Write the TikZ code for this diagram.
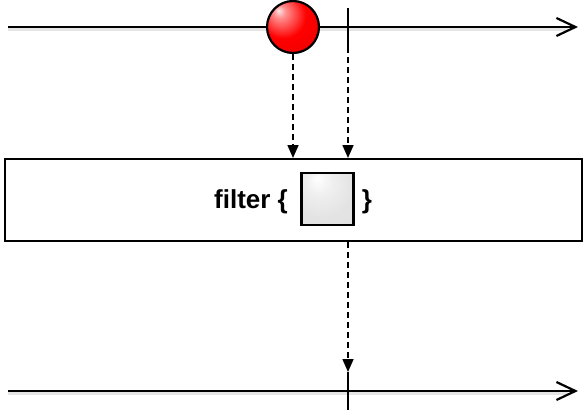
\documentclass[tikz,border=0pt]{standalone}
\usepackage{fontspec}
\setmainfont{Liberation Sans}
\usetikzlibrary{arrows.meta,calc}
\pgfdeclareradialshading{redball}{\pgfpoint{-14bp}{16bp}}{%
  color(0bp)=(red!10!white);
  color(6bp)=(red!45!white);
  color(22bp)=(red);
  color(45bp)=(red!92!black);
  color(70bp)=(red!85!black)}
\pgfdeclareradialshading{grayglow}{\pgfpoint{-10bp}{20bp}}{%
  color(0bp)=(white);
  color(12bp)=(black!6);
  color(30bp)=(black!11);
  color(70bp)=(black!12)}
\tikzset{
  timeline/.style={line width=2.2pt,-{Straight Barb[length=19pt,width=18pt,line width=2.2pt]}},
  tickline/.style={line width=2pt},
  flow/.style={line width=1.6pt,dash pattern=on 6pt off 4pt,-{Triangle[length=13pt,width=11pt]}},
  shadowline/.style={line width=2.4pt,draw=black!10},
  lbl/.style={font=\bfseries\fontsize{26}{30}\selectfont,inner sep=0pt,anchor=base},
}
\begin{document}
\begin{tikzpicture}[x=1pt,y=-1pt]
\useasboundingbox (0,0) rectangle (585,412);
% coordinates
\coordinate (tl) at (8,27);
\coordinate (tr) at (578,27);
\coordinate (bl) at (8,391);
\coordinate (br) at (578,391);
\coordinate (t1a) at (348,8);
\coordinate (t1b) at (348,47);
\coordinate (t2a) at (348,372);
\coordinate (t2b) at (348,410);
% shadows
\draw[shadowline] ($(tl)+(0,2.5)$) -- ($(tr)+(-10,2.5)$);
\draw[shadowline] ($(bl)+(0,2.5)$) -- ($(br)+(-10,2.5)$);
% timelines
\draw[timeline] (tl) -- (tr);
\draw[timeline] (bl) -- (br);
\draw[tickline] (t1a) -- (t1b);
\draw[tickline] (t2a) -- (t2b);
% ball
\node[circle,minimum size=52pt,inner sep=0pt,draw=black,line width=2.2pt,shading=redball] (ball) at (293,27) {};
% box
\fill[black!15] (6,160) rectangle (583,242);
\node[draw=black,line width=2pt,fill=white,minimum width=577pt,minimum height=82pt,inner sep=0pt,anchor=north west] (box) at (4,158) {};
% contents
\node[draw=black,line width=2.2pt,minimum size=52pt,inner sep=0pt,shading=grayglow] (sq) at (327.5,199) {};
\node[lbl] (ftxt) at (251,208) {filter \{};
\node[lbl] (rb) at (367,208) {\}};
% flows
\draw[flow] (ball.south) -- (ball.south |- box.north);
\draw[flow] (t1b) -- (t1b |- box.north);
\draw[flow] (t1b |- box.south) -- (t2a);
\end{tikzpicture}
\end{document}
